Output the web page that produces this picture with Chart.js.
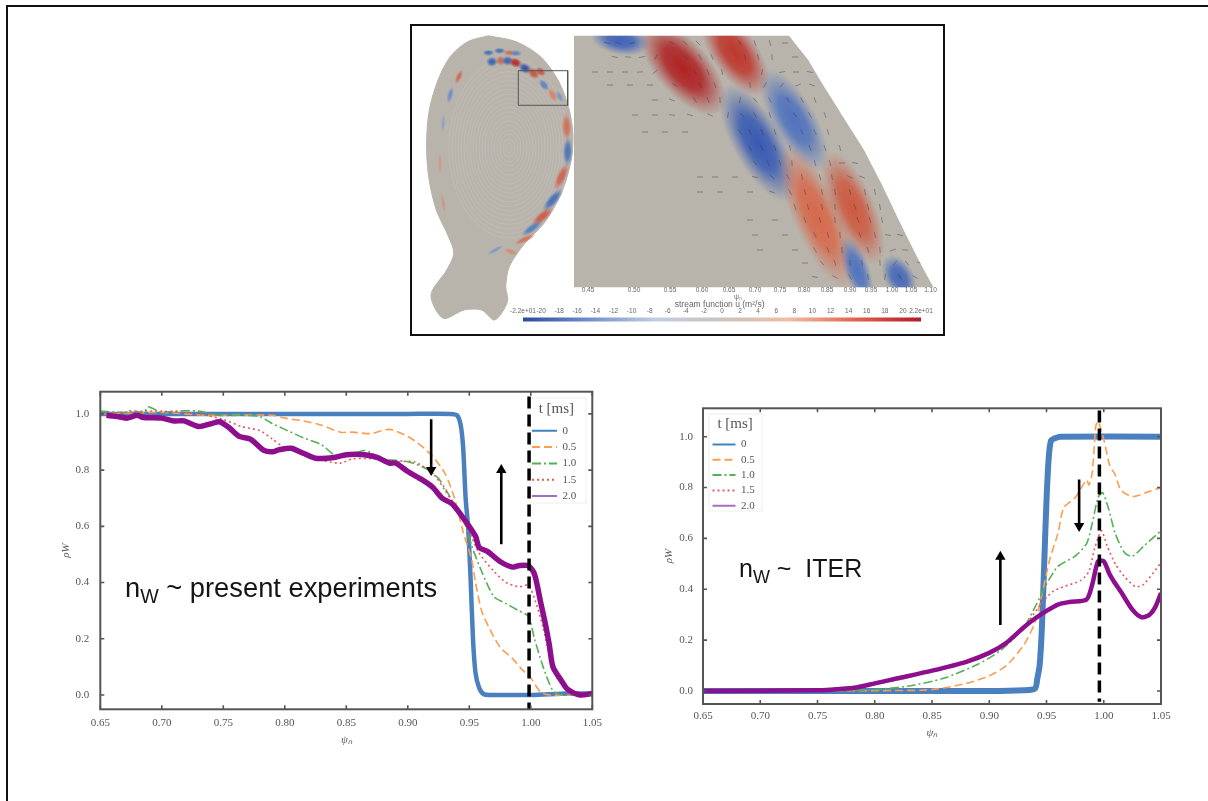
<!DOCTYPE html>
<html>
<head>
<meta charset="utf-8">
<title>Tungsten density profiles</title>
<script src="https://cdn.jsdelivr.net/npm/chart.js@4/dist/chart.umd.js"></script>
<style>
    html, body { margin: 0; padding: 0; background: #fff; }
    body { position: relative; width: 1208px; height: 801px; overflow: hidden; }
    canvas { position: absolute; }
    .plot { filter: blur(0.6px); }
    .slide-edge { position: absolute; left: 6px; top: 5px; width: 1202px; height: 796px; border-left: 2px solid #111; border-top: 2px solid #111; box-sizing: border-box; }
    .figure-frame { position: absolute; left: 410px; top: 24px; width: 535px; height: 312px; border: 2px solid #111; box-sizing: border-box; }
    .note { position: absolute; font-family: "Liberation Sans", sans-serif; color: #151515; white-space: pre; line-height: 30px; filter: blur(0.3px); }
    .note sub { font-size: 0.72em; line-height: 0; vertical-align: -6px; }
</style>
</head>
<body>
<div class="slide-edge"></div>
<div class="figure-frame"></div>
<canvas id="fieldChart" class="plot" width="531" height="308" style="left:412px;top:26px"></canvas>
<canvas id="colorbarChart" class="plot" width="435" height="20" style="left:505px;top:305px"></canvas>
<canvas id="leftChart" class="plot" width="545" height="362" style="left:60px;top:385px"></canvas>
<canvas id="rightChart" class="plot" width="512" height="340" style="left:663px;top:400px"></canvas>
<div class="note" style="left:125px;top:573px;font-size:27.3px">n<sub>W</sub> ~ present experiments</div>
<div class="note" style="left:739px;top:553px;font-size:25px">n<sub>W</sub> ~  ITER</div>

<script>
// legend + axes
const seriesNames = ['0', '0.5', '1.0', '1.5', '2.0'];
const xTicks = [0.65, 0.70, 0.75, 0.80, 0.85, 0.90, 0.95, 1.00, 1.05];
const yTicks = [0.0, 0.2, 0.4, 0.6, 0.8, 1.0];

// left panel: present experiments
const left0X = [0.65, 0.80, 0.90, 0.935, 0.94, 0.943, 0.945, 0.947, 0.949, 0.951, 0.953, 0.955, 0.958, 0.962, 0.97, 1.0, 1.03, 1.05];
const left0Y = [1.0, 1.0, 1.0, 1.0, 0.995, 0.96, 0.88, 0.7, 0.6, 0.42, 0.2, 0.08, 0.025, 0.002, 0.0, 0.0, 0.005, 0.005];
const left05X = [0.65, 0.70, 0.735, 0.75, 0.79, 0.80, 0.815, 0.83, 0.845, 0.855, 0.87, 0.885, 0.90, 0.91, 0.92, 0.93, 0.938, 0.945, 0.952, 0.955, 0.96, 0.966, 0.975, 0.985, 0.993, 1.0, 1.008, 1.015, 1.05];
const left05Y = [1.0, 1.005, 0.995, 0.995, 0.995, 0.985, 0.975, 0.96, 0.935, 0.935, 0.93, 0.945, 0.92, 0.89, 0.85, 0.79, 0.70, 0.58, 0.48, 0.40, 0.30, 0.24, 0.17, 0.13, 0.09, 0.06, 0.01, 0.0, 0.0];
const left10X = [0.65, 0.67, 0.675, 0.685, 0.689, 0.70, 0.71, 0.73, 0.745, 0.765, 0.78, 0.79, 0.80, 0.815, 0.83, 0.84, 0.85, 0.865, 0.88, 0.90, 0.915, 0.925, 0.935, 0.945, 0.952, 0.96, 0.97, 0.98, 0.99, 0.998, 1.003, 1.01, 1.018, 1.025, 1.05];
const left10Y = [1.01, 1.005, 1.012, 1.005, 1.025, 1.005, 1.01, 1.01, 0.995, 0.995, 0.99, 0.965, 0.945, 0.915, 0.89, 0.855, 0.85, 0.87, 0.84, 0.83, 0.805, 0.77, 0.70, 0.625, 0.53, 0.44, 0.35, 0.325, 0.30, 0.28, 0.20, 0.10, 0.015, 0.0, 0.0];
const left15X = [0.65, 0.685, 0.70, 0.73, 0.75, 0.765, 0.78, 0.79, 0.80, 0.815, 0.825, 0.845, 0.855, 0.875, 0.89, 0.905, 0.92, 0.93, 0.94, 0.95, 0.958, 0.97, 0.98, 0.99, 0.998, 1.004, 1.01, 1.015, 1.02, 1.03, 1.05];
const left15Y = [1.0, 1.01, 1.01, 1.0, 0.98, 0.955, 0.94, 0.91, 0.88, 0.865, 0.84, 0.825, 0.84, 0.84, 0.83, 0.83, 0.79, 0.73, 0.66, 0.58, 0.505, 0.44, 0.40, 0.385, 0.39, 0.33, 0.24, 0.14, 0.07, 0.02, 0.0];
const left20X = [0.655, 0.665, 0.672, 0.68, 0.685, 0.70, 0.71, 0.718, 0.73, 0.74, 0.747, 0.755, 0.763, 0.772, 0.783, 0.79, 0.795, 0.805, 0.815, 0.825, 0.84, 0.85, 0.865, 0.875, 0.885, 0.89, 0.90, 0.91, 0.92, 0.928, 0.936, 0.945, 0.955, 0.958, 0.965, 0.975, 0.985, 0.99, 0.998, 1.003, 1.008, 1.012, 1.015, 1.018, 1.025, 1.03, 1.04, 1.05];
const left20Y = [0.995, 0.99, 0.985, 0.995, 0.987, 0.985, 0.975, 0.975, 0.955, 0.965, 0.972, 0.95, 0.92, 0.91, 0.87, 0.865, 0.872, 0.878, 0.86, 0.842, 0.845, 0.855, 0.855, 0.845, 0.825, 0.825, 0.795, 0.77, 0.74, 0.70, 0.68, 0.63, 0.565, 0.525, 0.51, 0.475, 0.455, 0.46, 0.46, 0.43, 0.33, 0.25, 0.18, 0.10, 0.05, 0.02, 0.0, 0.005];
const leftSeparatrixX = [0.9986, 0.9986];
const leftSeparatrixY = [1.062, -0.053];
const leftArrowDownX = [0.919, 0.919];
const leftArrowDownY = [0.981, 0.80];
const leftArrowUpX = [0.976, 0.976];
const leftArrowUpY = [0.536, 0.80];

// right panel: ITER
const right0X = [0.65, 0.90, 0.93, 0.94, 0.942, 0.944, 0.946, 0.948, 0.95, 0.952, 0.954, 0.958, 0.962, 1.05];
const right0Y = [0.0, 0.0, 0.003, 0.01, 0.05, 0.10, 0.25, 0.5, 0.75, 0.92, 0.985, 0.995, 1.0, 1.0];
const right05X = [0.65, 0.84, 0.86, 0.88, 0.90, 0.915, 0.93, 0.94, 0.945, 0.953, 0.96, 0.965, 0.975, 0.985, 0.987, 0.99, 0.993, 0.995, 1.0, 1.005, 1.01, 1.015, 1.025, 1.04, 1.05];
const right05Y = [0.0, 0.003, 0.012, 0.03, 0.06, 0.10, 0.18, 0.27, 0.36, 0.52, 0.62, 0.72, 0.76, 0.83, 0.81, 0.86, 1.04, 1.06, 0.99, 0.89, 0.85, 0.79, 0.765, 0.785, 0.80];
const right10X = [0.65, 0.78, 0.80, 0.83, 0.86, 0.89, 0.91, 0.93, 0.94, 0.95, 0.96, 0.975, 0.985, 0.99, 0.995, 0.999, 1.004, 1.01, 1.018, 1.025, 1.035, 1.05];
const right10Y = [0.0, 0.003, 0.005, 0.02, 0.05, 0.105, 0.16, 0.25, 0.33, 0.42, 0.49, 0.53, 0.58, 0.66, 0.76, 0.78, 0.72, 0.62, 0.545, 0.53, 0.57, 0.63];
const right15X = [0.65, 0.78, 0.80, 0.83, 0.86, 0.89, 0.91, 0.93, 0.945, 0.955, 0.965, 0.98, 0.987, 0.992, 0.998, 1.003, 1.01, 1.018, 1.028, 1.035, 1.05];
const right15Y = [0.0, 0.005, 0.025, 0.055, 0.09, 0.135, 0.17, 0.25, 0.34, 0.39, 0.41, 0.435, 0.47, 0.56, 0.63, 0.57, 0.50, 0.45, 0.41, 0.42, 0.505];
const right20X = [0.65, 0.75, 0.77, 0.785, 0.80, 0.82, 0.85, 0.88, 0.90, 0.915, 0.93, 0.94, 0.95, 0.96, 0.97, 0.985, 0.99, 0.995, 1.0, 1.005, 1.009, 1.015, 1.025, 1.033, 1.04, 1.045, 1.05];
const right20Y = [0.0, 0.003, 0.008, 0.015, 0.03, 0.05, 0.08, 0.115, 0.15, 0.19, 0.25, 0.285, 0.315, 0.34, 0.35, 0.36, 0.42, 0.51, 0.51, 0.46, 0.43, 0.39, 0.32, 0.29, 0.30, 0.33, 0.385];
const rightSeparatrixX = [0.9962, 0.9962];
const rightSeparatrixY = [1.103, -0.042];
const rightArrowUpX = [0.9097, 0.9097];
const rightArrowUpY = [0.26, 0.528];
const rightArrowDownX = [0.9785, 0.9785];
const rightArrowDownY = [0.832, 0.649];

// stream function figure
const sectionX = [78.4, 57.6, 40.2, 28, 19.3, 16.6, 18.6, 26.3, 38.5, 43.7, 36.7, 21, 33.2, 54.1, 71.5, 84.7, 97.5, 95.8, 99.3, 114.9, 134, 151.4, 161.2, 162.9, 158.4, 148, 130.6, 106.2, 78.4];
const sectionY = [11.7, 17.7, 32.7, 56, 86, 119.3, 152.7, 186, 212.7, 229.3, 246, 271, 294.3, 286, 286, 296, 277.7, 262.7, 242.7, 219.3, 199.3, 169.3, 136, 109.3, 82.7, 56, 32.7, 17.7, 11.7];
const insetX = [108.3, 157.7, 157.7, 108.3, 108.3];
const insetY = [46.7, 46.7, 81.3, 81.3, 46.7];
const zoomX = [164, 379, 398.2, 412, 433, 454, 471.2, 492, 509.5, 523.4, 164, 164];
const zoomY = [11.7, 11.7, 36, 59.3, 92.7, 126, 159.3, 202.7, 237.7, 263.3, 263.3, 11.7];

const modeX = [78.4, 89.5, 99.3, 106, 82, 90.6, 97.5, 105.5, 115, 123.6, 130.6, 134, 142.7, 149.7, 156.6, 157.7, 151.4, 142.7, 132.3, 121.9, 114.9, 101, 85.4, 48.9, 40.2, 33.2, 29.8, 33.2];
const modeY = [28.7, 26.7, 28.7, 29.3, 37.7, 36.7, 36.7, 38.7, 44.3, 49.3, 47.7, 61, 71, 72.7, 102.7, 127.7, 152.7, 176, 192.7, 204.3, 215.3, 227.7, 226, 52.7, 71, 99.3, 139.3, 179.3];
const modeRx = [6, 6, 6, 6, 6, 5, 6, 7, 7, 7, 6, 7, 8, 7, 14, 15, 15, 15, 14, 13, 12, 8, 10, 8, 9, 10, 11, 11];
const modeRy = [3, 3, 3, 3, 5, 5, 5, 5, 5, 5, 4, 4, 4, 3, 5, 5, 5, 5, 5, 4, 3, 3, 2, 3, 3, 2, 2, 2];
const modeAngle = [0, 0, 0, 0, 0, 0, 0, 20, 30, 40, 40, 50, 60, 60, 88, 92, 115, 130, 140, 145, 155, 20, 150, 115, 105, 95, 90, 80];
const modeColor = ['70,110,185', '70,110,185', '205,110,85', '90,130,195', '60,100,180', '205,100,80', '60,100,180', '175,45,40', '50,85,165', '195,85,65', '195,85,65', '90,130,195', '215,130,100', '120,150,200', '210,110,85', '75,115,185', '205,100,80', '70,110,185', '205,90,70', '85,125,190', '210,115,90', '210,140,115', '120,150,200', '205,105,85', '110,140,200', '140,160,200', '210,150,130', '200,150,130'];

const blobX = [273, 325, 210.5, 348, 384, 407, 443, 447, 489];
const blobY = [44, 29, 16, 119, 96, 193, 184, 246, 253];
const blobRx = [58, 50, 30, 66, 58, 78, 62, 36, 24];
const blobRy = [27, 23, 15, 25, 22, 24, 22, 13, 15];
const blobAngle = [49, 55, 10, 61, 60, 66, 66, 70, 60];
const blobColor = ['175,35,35', '190,55,45', '65,100,185', '55,90,180', '80,115,190', '215,105,75', '205,90,65', '80,115,190', '70,105,185'];

const arrowRowY = [19, 33, 48, 61, 76, 91, 108, 124, 139, 153, 168, 183, 196, 211, 226, 239, 253];
const arrowRowX = [
    [197, 208, 222, 262, 275, 288, 330, 345, 360, 375],
    [205, 218, 232, 246, 275, 290, 302, 335, 348, 362, 385],
    [185, 200, 215, 230, 245, 285, 298, 312, 352, 372, 386, 400],
    [200, 220, 240, 265, 290, 305, 340, 355, 372, 388, 402],
    [245, 262, 285, 298, 310, 330, 345, 360, 378, 392, 405],
    [225, 245, 262, 280, 300, 318, 332, 345, 360, 385, 400, 415],
    [235, 255, 275, 330, 340, 352, 365, 392, 405, 418],
    [340, 352, 365, 380, 400, 415, 430],
    [345, 358, 370, 382, 405, 420, 432, 445],
    [290, 305, 325, 345, 362, 378, 392, 410, 422, 440, 452],
    [290, 310, 340, 362, 380, 395, 412, 425, 440, 455, 465],
    [385, 398, 412, 425, 445, 458, 470],
    [340, 365, 395, 410, 425, 448, 460, 472],
    [345, 375, 405, 418, 430, 450, 465, 478, 490],
    [350, 385, 405, 418, 432, 458, 470, 483, 495],
    [395, 412, 425, 440, 452, 470, 485, 497, 510],
    [405, 425, 440, 458, 475, 490, 505]
];
const arrowRowAngle = [
    [20, 15, -10, 30, 40, 45, 60, 70, 75, 0],
    [10, 5, -10, -60, 50, 60, 70, 75, 80, 85, 0],
    [0, 0, 0, -5, -40, 60, 70, 80, -80, -10, 0, 10],
    [0, 0, 0, 30, 60, 70, 85, -60, -50, -20, 20],
    [0, 20, 60, 70, 85, -80, 50, 60, 60, 60, 70],
    [0, 0, 5, 15, 25, -80, 40, 60, 70, 50, 60, 70],
    [0, 0, 0, 50, 60, 65, 75, 60, 65, 75],
    [60, 60, 70, 80, 70, 70, 75],
    [50, 65, 70, 85, 75, 75, 0, 10],
    [0, 0, 0, 10, 40, 60, 80, 75, 80, 25, 20],
    [0, 0, 0, 20, 60, 70, 80, 80, 75, 75, 80],
    [70, 75, 80, 85, 70, 75, 80],
    [0, 0, 70, 75, 85, 70, 75, 80],
    [0, 0, 65, 75, 85, 70, 75, 10, 10],
    [0, 0, 60, 70, 85, 75, 85, -20, 5],
    [0, 50, 70, 85, 80, 85, -50, 50, 20],
    [10, 30, 60, 85, -80, 60, 30]
];

const psiLabels = ['0.45', '0.50', '0.55', '0.60', '0.65', '0.70', '0.75', '0.80', '0.85', '0.90', '0.95', '1.00', '1.05', '1.10'];
const psiLabelX = [178, 224, 260, 292, 319, 345, 370, 394, 417, 440, 461, 482, 501, 520.5];

const colorbarTicks = [-22, -20, -18, -16, -14, -12, -10, -8, -6, -4, -2, 0, 2, 4, 6, 8, 10, 12, 14, 16, 18, 20, 22];
const colorbarColors = ['#2c4a9e', '#6f8fce', '#c3cde0', '#c9c4bd', '#f0bda6', '#e0654f', '#b2182b'];

const seriesColors = ['#4a80bd', '#ff9d4f', '#55b055', '#e9585c', '#8e0f8e'];
const legendColors = ['#3f83c0', '#ff9d4f', '#55b055', '#e9585c', '#a56cc4'];
const seriesDashes = [[], [8, 4], [9, 3, 2, 3], [2, 3], []];
const axisFont = "'Liberation Serif', serif";

function zip(xs, ys) {
    return xs.map((x, i) => ({ x, y: ys[i] }));
}

// tick overhang must not push the plot area around, the frame position is fixed
function clearScalePadding(scale) {
    scale.paddingLeft = 0;
    scale.paddingRight = 0;
    scale.paddingTop = 0;
    scale.paddingBottom = 0;
}

const frameTicks = {
    id: 'frameTicks',
    afterDatasetsDraw(chart) {
        const { ctx, chartArea: a, scales } = chart;
        ctx.save();
        ctx.strokeStyle = '#555';
        ctx.lineWidth = 1.6;
        ctx.beginPath();
        xTicks.forEach(v => {
            const px = scales.x.getPixelForValue(v);
            ctx.moveTo(px, a.bottom); ctx.lineTo(px, a.bottom - 4);
            ctx.moveTo(px, a.top); ctx.lineTo(px, a.top + 4);
        });
        yTicks.forEach(v => {
            const py = scales.y.getPixelForValue(v);
            ctx.moveTo(a.left, py); ctx.lineTo(a.left + 4, py);
            ctx.moveTo(a.right, py); ctx.lineTo(a.right - 4, py);
        });
        ctx.stroke();
        ctx.lineWidth = 2;
        ctx.strokeRect(a.left, a.top, a.right - a.left, a.bottom - a.top);
        ctx.restore();
    }
};

// the legend sits inside the frame, on its own little white box
const legendBox = {
    id: 'legendBox',
    afterLayout(chart, args, opts) {
        const legend = chart.legend;
        legend.left = opts.x + opts.inset;
        legend.top = opts.y + opts.topInset;
        legend.right = opts.x + opts.width;
        legend.bottom = opts.y + opts.height + 40; // room, or the last row wraps to a new column
        legend.width = opts.width - opts.inset;
    },
    beforeDraw(chart, args, opts) {
        const { ctx } = chart;
        ctx.save();
        ctx.fillStyle = '#fff';
        ctx.strokeStyle = '#eee';
        ctx.lineWidth = 1;
        ctx.fillRect(opts.x, opts.y, opts.width, opts.height);
        ctx.strokeRect(opts.x, opts.y, opts.width, opts.height);
        ctx.restore();
    }
};

function arrowDataset(xs, ys) {
    return {
        data: zip(xs, ys),
        borderColor: '#000',
        backgroundColor: '#000',
        borderWidth: 2.6,
        pointRadius: [0, 6],
        pointStyle: 'triangle',
        pointRotation: ys[1] > ys[0] ? [0, 0] : [0, 180],
        pointBorderWidth: 0,
        order: 0
    };
}

function createProfileChart(id, cfg) {
    const series = cfg.series.map((xy, i) => ({
        label: seriesNames[i],
        data: zip(xy[0], xy[1]),
        borderColor: seriesColors[i],
        backgroundColor: seriesColors[i],
        borderWidth: cfg.widths[i],
        borderDash: seriesDashes[i],
        pointRadius: 0,
        tension: 0.25,
        order: i === 0 ? 6 : 5 - i + 1
    }));
    series.push({
        data: zip(cfg.separatrix[0], cfg.separatrix[1]),
        borderColor: '#000',
        borderWidth: 3.5,
        borderDash: [12, 6],
        pointRadius: 0,
        clip: false,
        order: 0
    });
    cfg.arrows.forEach(a => series.push(arrowDataset(a[0], a[1])));

    return new Chart(document.getElementById(id), {
        type: 'line',
        data: { datasets: series },
        plugins: [legendBox, frameTicks],
        options: {
            responsive: false,
            animation: false,
            events: [],
            layout: { padding: cfg.padding },
            scales: {
                x: {
                    type: 'linear',
                    min: 0.65,
                    max: 1.05,
                    grid: { display: false, drawTicks: false },
                    border: { display: false },
                    afterBuildTicks: s => { s.ticks = xTicks.map(value => ({ value })); },
                    afterFit: s => { s.height = cfg.xAxisHeight; clearScalePadding(s); },
                    ticks: {
                        autoSkip: false,
                        maxRotation: 0,
                        padding: cfg.xTickPadding,
                        color: '#555',
                        font: { family: axisFont, size: 11 },
                        callback: v => v.toFixed(2)
                    },
                    title: { display: true, text: 'ψₙ', color: '#555', padding: 0, font: { family: axisFont, size: 11, style: 'italic' } }
                },
                y: {
                    min: cfg.yMin,
                    max: cfg.yMax,
                    grid: { display: false, drawTicks: false },
                    border: { display: false },
                    afterBuildTicks: s => { s.ticks = yTicks.map(value => ({ value })); },
                    afterFit: s => { s.width = cfg.yAxisWidth; clearScalePadding(s); },
                    ticks: {
                        autoSkip: false,
                        padding: cfg.yTickPadding,
                        color: '#555',
                        font: { family: axisFont, size: 11 },
                        callback: v => v.toFixed(1)
                    },
                    title: { display: true, text: 'ρW', color: '#555', padding: 0, font: { family: axisFont, size: 11, style: 'italic' } }
                }
            },
            plugins: {
                tooltip: { enabled: false },
                legendBox: cfg.legendBox,
                legend: {
                    position: 'chartArea',
                    align: 'start',
                    title: { display: true, text: 't [ms]', color: '#555', padding: { top: 4, bottom: 0 }, font: { family: axisFont, size: 15 } },
                    labels: {
                        usePointStyle: true,
                        pointStyle: 'line',
                        pointStyleWidth: cfg.sampleWidth,
                        padding: cfg.legendPadding,
                        font: { family: axisFont, size: 11 },
                        generateLabels: () => seriesNames.map((name, i) => ({
                            text: name,
                            strokeStyle: legendColors[i],
                            fillStyle: legendColors[i],
                            fontColor: '#555',
                            lineWidth: 2,
                            lineDash: seriesDashes[i],
                            pointStyle: 'line',
                            datasetIndex: i
                        }))
                    }
                }
            }
        }
    });
}

createProfileChart('leftChart', {
    series: [[left0X, left0Y], [left05X, left05Y], [left10X, left10Y], [left15X, left15Y], [left20X, left20Y]],
    separatrix: [leftSeparatrixX, leftSeparatrixY],
    arrows: [[leftArrowDownX, leftArrowDownY], [leftArrowUpX, leftArrowUpY]],
    widths: [4.5, 1.6, 1.6, 1.6, 5.5],
    padding: { top: 6.7, right: 12.7, bottom: 0, left: 0 },
    xAxisHeight: 37.7,
    yAxisWidth: 40.3,
    xTickPadding: 7,
    yTickPadding: 11,
    yMin: -0.051,
    yMax: 1.079,
    sampleWidth: 25,
    legendPadding: 5.3,
    legendBox: { x: 470, y: 13, width: 56, height: 105, inset: -3.3, topInset: 0 }
});

createProfileChart('rightChart', {
    series: [[right0X, right0Y], [right05X, right05Y], [right10X, right10Y], [right15X, right15Y], [right20X, right20Y]],
    separatrix: [rightSeparatrixX, rightSeparatrixY],
    arrows: [[rightArrowUpX, rightArrowUpY], [rightArrowDownX, rightArrowDownY]],
    widths: [6, 1.6, 1.6, 1.6, 4.5],
    padding: { top: 8.3, right: 14, bottom: 0, left: 0 },
    xAxisHeight: 36,
    yAxisWidth: 40,
    xTickPadding: 5.5,
    yTickPadding: 10,
    yMin: -0.051,
    yMax: 1.1116,
    sampleWidth: 23,
    legendPadding: 4.3,
    legendBox: { x: 46, y: 14, width: 53, height: 97, inset: -0.8, topInset: -1.3 }
});

// soft elliptical patch used as the point image of the field datasets
function patchSprite(rx, ry, rgb) {
    const sprite = document.createElement('canvas');
    sprite.width = rx * 2;
    sprite.height = ry * 2;
    const c = sprite.getContext('2d');
    c.translate(rx, ry);
    c.scale(1, ry / rx);
    const g = c.createRadialGradient(0, 0, 0, 0, 0, rx);
    g.addColorStop(0, `rgba(${rgb},1)`);
    g.addColorStop(0.45, `rgba(${rgb},0.85)`);
    g.addColorStop(0.8, `rgba(${rgb},0.28)`);
    g.addColorStop(1, `rgba(${rgb},0)`);
    c.fillStyle = g;
    c.beginPath();
    c.arc(0, 0, rx, 0, Math.PI * 2);
    c.fill();
    return sprite;
}

// flux surface rings of the poloidal section
function ringSprite() {
    const sprite = document.createElement('canvas');
    sprite.width = 128;
    sprite.height = 190;
    const c = sprite.getContext('2d');
    c.strokeStyle = 'rgba(215,213,208,0.4)';
    c.lineWidth = 0.6;
    for (let r = 3; r < 62; r += 3) {
        c.beginPath();
        c.ellipse(64, 95, r, r * 1.5, 0, 0, Math.PI * 2);
        c.stroke();
    }
    return sprite;
}

const panelClip = {
    id: 'panelClip',
    beforeDatasetDraw(chart, args) {
        if (!chart.data.datasets[args.index].clipToZoom) return;
        const { ctx, scales } = chart;
        ctx.save();
        ctx.beginPath();
        zoomX.forEach((x, i) => ctx.lineTo(scales.x.getPixelForValue(x), scales.y.getPixelForValue(zoomY[i])));
        ctx.closePath();
        ctx.clip();
    },
    afterDatasetDraw(chart, args) {
        if (chart.data.datasets[args.index].clipToZoom) chart.ctx.restore();
    }
};

const fieldText = {
    id: 'fieldText',
    afterDatasetsDraw(chart) {
        const { ctx, scales } = chart;
        ctx.save();
        ctx.fillStyle = '#666';
        ctx.textAlign = 'center';
        ctx.textBaseline = 'middle';
        ctx.font = "6.5px 'Liberation Sans', sans-serif";
        psiLabels.forEach((label, i) => ctx.fillText(label, scales.x.getPixelForValue(psiLabelX[i]), scales.y.getPixelForValue(266)));
        ctx.font = "7px 'Liberation Sans', sans-serif";
        ctx.fillText('ψₙ', scales.x.getPixelForValue(328), scales.y.getPixelForValue(273));
        ctx.font = "8.5px 'Liberation Sans', sans-serif";
        ctx.fillText('stream function u (m²/s)', scales.x.getPixelForValue(309.6), scales.y.getPixelForValue(280.5));
        ctx.restore();
    }
};

const gray = '#b8b4ac';
const arrowPoints = arrowRowY.flatMap((y, r) => arrowRowX[r].map(x => ({ x, y })));
const arrowAngles = arrowRowAngle.flat();

new Chart(document.getElementById('fieldChart'), {
    type: 'scatter',
    plugins: [panelClip, fieldText],
    data: {
        datasets: [
            { data: zip(sectionX, sectionY), showLine: true, fill: 'shape', tension: 0.3, backgroundColor: gray, borderColor: gray, borderWidth: 1, pointRadius: 0, order: 7 },
            { data: [{ x: 99, y: 124 }], pointStyle: ringSprite(), pointRadius: 60, order: 6 },
            {
                data: zip(modeX, modeY),
                pointStyle: modeX.map((x, i) => patchSprite(modeRx[i], modeRy[i], modeColor[i])),
                pointRotation: modeAngle,
                pointRadius: 12,
                order: 5
            },
            { data: zip(insetX, insetY), showLine: true, borderColor: '#555', borderWidth: 1, pointRadius: 0, order: 4 },
            { data: zip(zoomX, zoomY), showLine: true, fill: 'shape', backgroundColor: gray, borderColor: gray, borderWidth: 0, pointRadius: 0, order: 3 },
            {
                data: zip(blobX, blobY),
                clipToZoom: true,
                pointStyle: blobX.map((x, i) => patchSprite(blobRx[i], blobRy[i], blobColor[i])),
                pointRotation: blobAngle,
                pointRadius: 40,
                order: 2
            },
            {
                data: arrowPoints,
                clipToZoom: true,
                pointStyle: 'line',
                pointRotation: arrowAngles,
                pointRadius: 3,
                pointBorderWidth: 0.6,
                pointBorderColor: 'rgba(50,50,60,0.7)',
                order: 1
            }
        ]
    },
    options: {
        responsive: false,
        animation: false,
        events: [],
        layout: { autoPadding: false },
        scales: {
            x: { display: false, min: 2, max: 533 },
            y: { display: false, min: 2, max: 310, reverse: true }
        },
        plugins: { legend: { display: false }, tooltip: { enabled: false } }
    }
});

new Chart(document.getElementById('colorbarChart'), {
    type: 'scatter',
    data: {
        datasets: [{
            data: [{ x: colorbarTicks[0], y: 0 }, { x: colorbarTicks[colorbarTicks.length - 1], y: 0 }],
            showLine: true,
            borderWidth: 4,
            pointRadius: 0,
            borderColor: ctx => {
                const area = ctx.chart.chartArea;
                if (!area) return colorbarColors[0];
                const g = ctx.chart.ctx.createLinearGradient(area.left, 0, area.right, 0);
                colorbarColors.forEach((c, i) => g.addColorStop(i / (colorbarColors.length - 1), c));
                return g;
            }
        }]
    },
    options: {
        responsive: false,
        animation: false,
        events: [],
        layout: { autoPadding: false, padding: { left: 18, right: 19, top: 0, bottom: 1 } },
        scales: {
            x: {
                position: 'top',
                min: -22,
                max: 22,
                grid: { display: false, drawTicks: false },
                border: { display: false },
                afterBuildTicks: s => { s.ticks = colorbarTicks.map(value => ({ value })); },
                afterFit: s => { s.height = 10; clearScalePadding(s); },
                ticks: {
                    autoSkip: false,
                    maxRotation: 0,
                    padding: 0,
                    color: '#666',
                    font: { family: "'Liberation Sans', sans-serif", size: 6.5 },
                    callback: v => (Math.abs(v) === 22 ? (v < 0 ? '-' : '') + '2.2e+01' : String(v))
                }
            },
            y: { display: false, min: -1, max: 1 }
        },
        plugins: { legend: { display: false }, tooltip: { enabled: false } }
    }
});
</script>
</body>
</html>
